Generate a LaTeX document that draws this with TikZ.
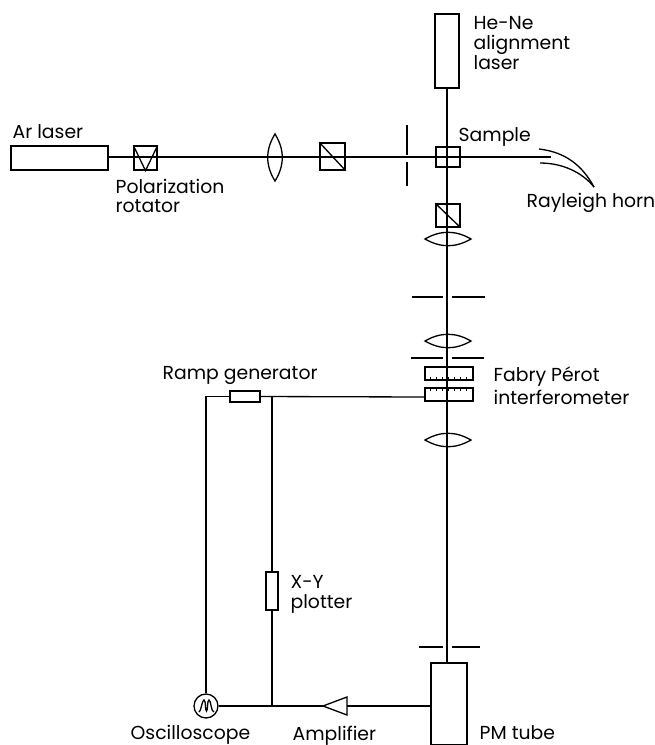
\documentclass[tikz,border=0pt]{standalone}
\usepackage{fontspec}
\setmainfont{Poppins}
\tikzset{
  dev/.style 2 args={draw,inner sep=0pt,minimum width=#1*0.2mm,minimum height=#2*0.2mm},
  lbl/.style={anchor=north west,inner sep=0pt,align=left,font=\fontsize{10.7}{#1}\selectfont},
  lbl/.default=11.4
}
\begin{document}
\begin{tikzpicture}[x=0.2mm,y=-0.2mm,line width=0.75pt]
	\useasboundingbox (0,0) rectangle (655,745);
	% sources and cubes
	\node[dev={97}{24}] (arlaser) at (59.5,158) {};
	\node[dev={24}{74}] (laser) at (447,51) {};
	\node[dev={23}{24}] (rotator) at (145.5,158) {};
	\node[dev={25}{27}] (cubeA) at (332.5,156.5) {};
	\node[dev={24}{20}] (sample) at (448,157) {};
	\node[dev={24}{23}] (cubeB) at (448,215.5) {};
	\node[dev={36}{82}] (pmtube) at (449,704) {};
	\draw (rotator.north west) -- (rotator.south) -- (rotator.north east);
	\draw (cubeA.north west) -- (cubeA.south east) (cubeB.north west) -- (cubeB.south east);
	% beams
	\coordinate (hornend) at (551,157);
	\coordinate (pmtop) at (447,663);
	\draw (arlaser.east|-hornend) -- (hornend);
	\draw (laser.south) -- (pmtop);
	% lenses
	\draw (275,134) to[bend left=32] (275,181) to[bend left=32] cycle;
	\foreach \y in {239,341,440}
		\draw (425,\y) to[bend left=30] (471,\y) to[bend left=30] cycle;
	% stops
	\draw (407,125) -- (407,155) (407,162) -- (407,186);
	\foreach \y/\a/\b in {297/412/485,358/411/484,647/419/480}{
		\draw (\a,\y) -- (443,\y) (452,\y) -- (\b,\y);
	}
	% Fabry Perot plates
	\node[dev={48}{13}] (plateA) at (449,373.5) {};
	\node[dev={48}{13}] (plateB) at (449,394.5) {};
	\foreach \x in {430,436,...,470}{
		\draw[line width=0.5pt] (\x,380) -- (\x,377) (\x,388) -- (\x,391);
	}
	% horn
	\draw (539,149) .. controls (565,152) and (582,165) .. (594,187);
	\draw (540,163) .. controls (562,163) and (582,172) .. (594,187);
	% electronics
	\node[dev={30}{11},fill=white] (ramp) at (245,396.5) {};
	\node[dev={12}{38},fill=white] (plotter) at (272,591) {};
	\node[dev={24}{24},circle] (scope) at (206,706) {};
	\draw (199,712) .. controls (201,712) and (202,700) .. (204,700) .. controls (206,700) and (205,711) .. (206.5,711) .. controls (208,711) and (207,700) .. (209,700) .. controls (211,700) and (211,712) .. (214,712);
	\coordinate (amptip) at (323,706);
	\coordinate (ampbase) at (347,706);
	\coordinate (join) at (272,397);
	\coordinate (joinb) at (272,706);
	\coordinate (plateend) at (plateB.west|-join);
	\draw (amptip) -- (347,697) -- (347,715) -- cycle;
	\draw (pmtube.west|-joinb) -- (ampbase);
	\draw (amptip) -- (scope.east);
	\draw (scope.north) |- (ramp.west);
	\draw (ramp.east) -- (plateend);
	\draw (join) -- (plotter.north) (plotter.south) -- (joinb);
	% labels
	\node[lbl] (lblar) at (12,124) {Ar laser};
	\node[lbl] (lblhene) at (473,16) {He-Ne\\alignment\\laser};
	\node[lbl] (lblsample) at (458,127) {Sample};
	\node[lbl] (lblhorn) at (526,193) {Rayleigh horn};
	\node[lbl=10.4] (lblrot) at (115,179) {Polarization\\rotator};
	\node[lbl=13] (lblfp) at (493,366) {Fabry Pérot\\interferometer};
	\node[lbl] (lblramp) at (162,366) {Ramp generator};
	\node[lbl] (lblxy) at (290,575) {X-Y\\plotter};
	\node[lbl] (lblscope) at (130,725) {Oscilloscope};
	\node[lbl] (lblamp) at (292,725) {Amplifier};
	\node[lbl] (lblpm) at (479,725) {PM tube};
\end{tikzpicture}
\end{document}
